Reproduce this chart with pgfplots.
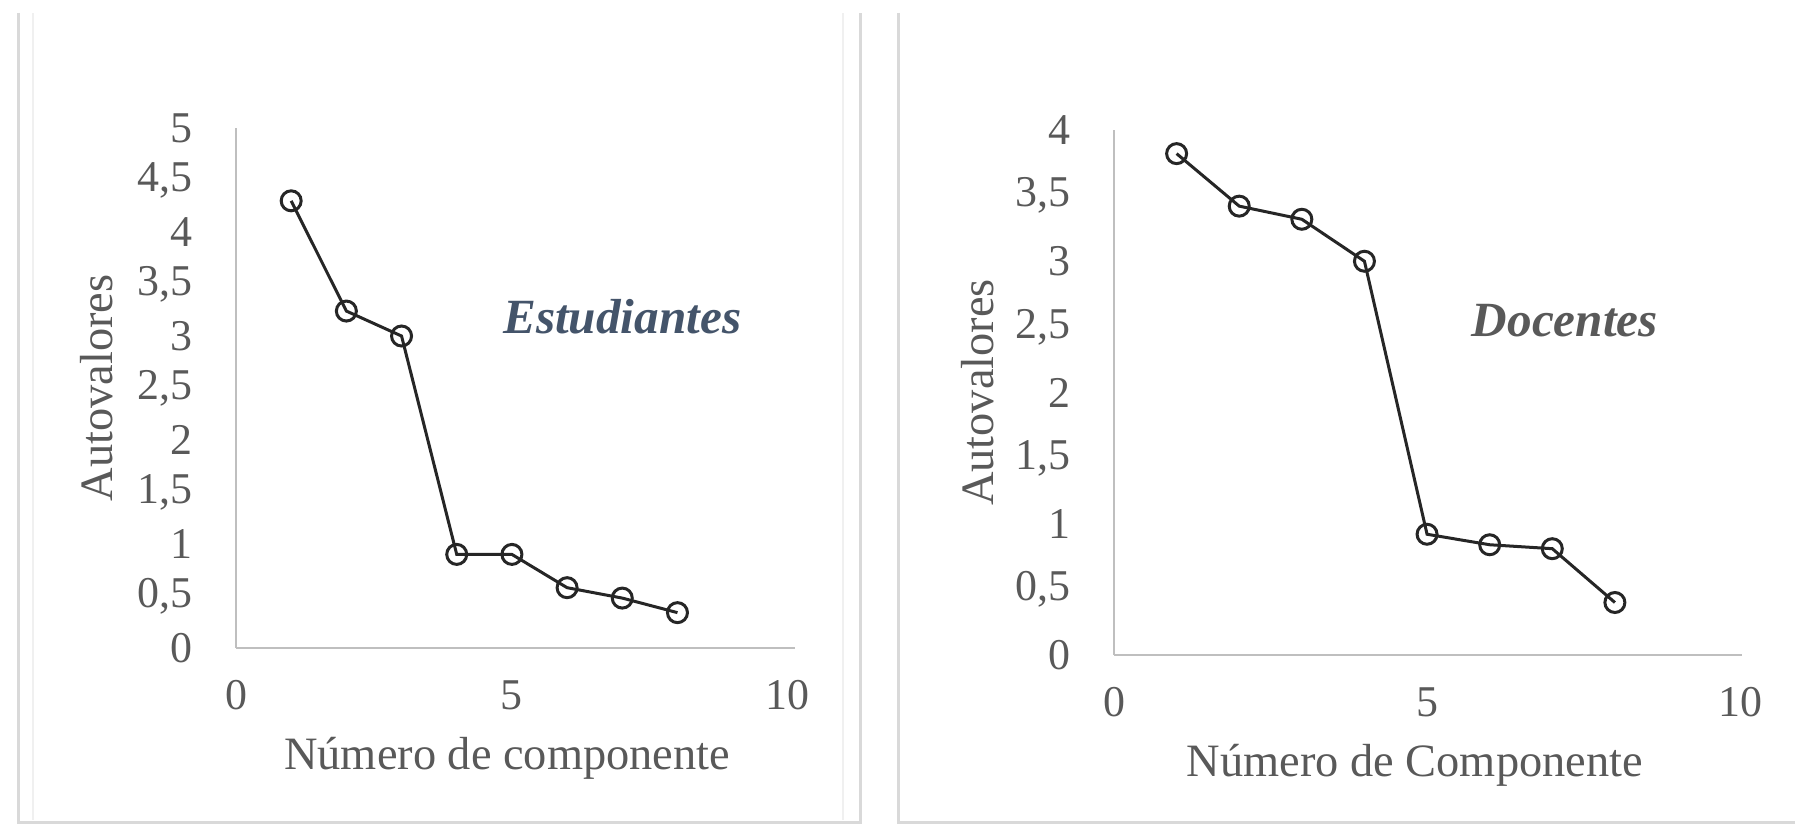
\documentclass[border=0pt]{standalone}
\usepackage{fontspec}
\setmainfont{Liberation Serif}
\usepackage{pgfplots}
\pgfplotsset{compat=1.18}

\definecolor{txtgray}{HTML}{595959}
\definecolor{txtblue}{HTML}{44546A}
\definecolor{axgray}{HTML}{BFBFBF}
\definecolor{framegray}{HTML}{D9D9D9}

% common look of the two scree plots
\pgfplotsset{scree/.style={
    scale only axis, xmin=0, ymin=0, clip=false,
    axis x line=bottom, axis y line=left,
    axis line style={-, axgray, line width=0.25mm},
    major tick length=0, xtick={0,5,10}, ytick distance=0.5,
    /pgf/number format/use comma,
    /pgf/number format/assume math mode=true,
    ticklabel style={font=\fontsize{12.5}{15}\selectfont, text=txtgray},
    xticklabel style={anchor=center, yshift=-4.7mm},
    yticklabel style={anchor=east, inner sep=0pt, xshift=-4.3mm},
    label style={font=\fontsize{13.2}{16}\selectfont, text=txtgray},
  },
  screeline/.style={black!85, line width=0.3mm, mark=o, mark size=1.0mm,
    mark options={line width=0.3mm, fill=none}},
}

\begin{document}
\begin{tikzpicture}
\useasboundingbox (0,0) rectangle (179.5mm,83.1mm);

% panel frames
\draw[framegray!40, line width=0.2mm] (3.3mm,81.8mm) -- (3.3mm,1.1mm);
\draw[framegray!40, line width=0.2mm] (84.3mm,81.8mm) -- (84.3mm,1.1mm);
\draw[framegray, line width=0.3mm] (1.8mm,81.8mm) -- (1.8mm,0.9mm) -- (86mm,0.9mm) -- (86mm,81.8mm);
\draw[framegray, line width=0.3mm] (89.8mm,81.8mm) -- (89.8mm,0.9mm) -- (179.5mm,0.9mm);

% Estudiantes
\begin{axis}[scree, at={(23.6mm,18.3mm)}, anchor=south west,
    width=55.9mm, height=52mm, xmax=10.13, ymax=5,
    xlabel={Número de componente}, ylabel={Autovalores},
    xlabel style={at={(axis description cs:0.485,-0.212)}, anchor=center},
    ylabel style={at={(axis description cs:-0.249,0.5)}, anchor=center}]
  \addplot[screeline] coordinates {(1,4.30) (2,3.24) (3,3.00) (4,0.90) (5,0.90) (6,0.58) (7,0.48) (8,0.34)};
  \node[text=txtblue, font=\fontsize{14}{16}\selectfont\bfseries\itshape] at (axis cs:7.0,3.19) {Estudiantes};
\end{axis}

% Docentes
\begin{axis}[scree, at={(111.4mm,17.6mm)}, anchor=south west,
    width=62.8mm, height=52.5mm, xmax=10.03, ymax=4,
    xlabel={Número de Componente}, ylabel={Autovalores},
    xlabel style={at={(axis description cs:0.479,-0.21)}, anchor=center},
    ylabel style={at={(axis description cs:-0.217,0.5)}, anchor=center}]
  \addplot[screeline] coordinates {(1,3.82) (2,3.42) (3,3.32) (4,3.00) (5,0.92) (6,0.84) (7,0.81) (8,0.40)};
  \node[text=txtgray, font=\fontsize{14}{16}\selectfont\bfseries\itshape] at (axis cs:7.2,2.55) {Docentes};
\end{axis}
\end{tikzpicture}
\end{document}
